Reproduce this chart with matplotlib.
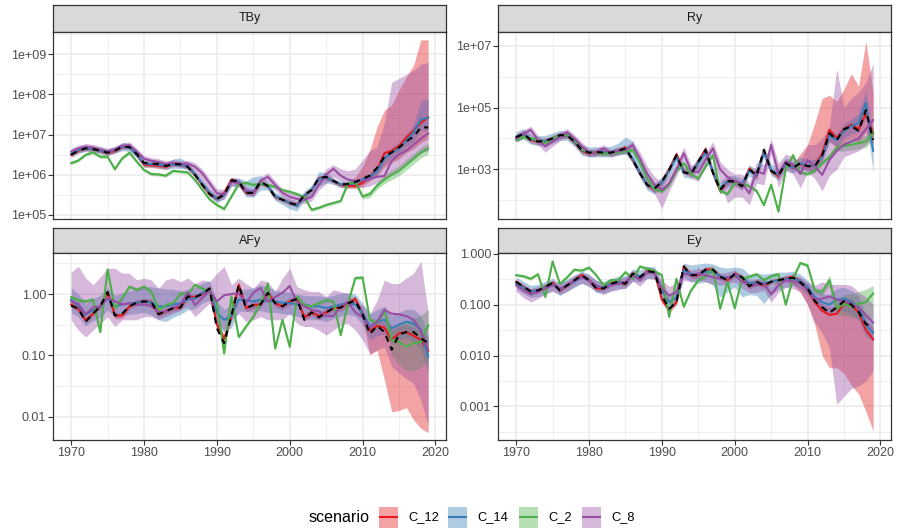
import numpy as np
import matplotlib
matplotlib.use("Agg")
import matplotlib.pyplot as plt
from matplotlib.patches import Rectangle
from matplotlib.lines import Line2D

plt.rcParams['font.family'] = ['Liberation Sans', 'DejaVu Sans']

years = list(range(1970, 2020))
scenarios = ["C_12", "C_14", "C_2", "C_8"]
scen_colors = ["#E41A1C", "#377EB8", "#4DAF4A", "#984EA3"]

# all series below are log10 of the plotted quantity

# ---- TBy ----
tby_obs = [6.50, 6.60, 6.66, 6.64, 6.60, 6.55, 6.60, 6.70, 6.69, 6.52,
           6.30, 6.28, 6.27, 6.22, 6.27, 6.26, 6.20, 6.00, 5.75, 5.52,
           5.40, 5.50, 5.86, 5.84, 5.55, 5.55, 5.83, 5.72, 5.45, 5.38,
           5.30, 5.25, 5.50, 5.62, 5.92, 5.95, 5.85, 5.76, 5.77, 5.82,
           5.90, 5.98, 6.18, 6.45, 6.56, 6.68, 6.83, 6.95, 7.18, 7.18]
tby_c12 = [6.50, 6.60, 6.66, 6.64, 6.60, 6.55, 6.60, 6.70, 6.69, 6.50,
           6.25, 6.24, 6.22, 6.20, 6.27, 6.26, 6.20, 6.00, 5.75, 5.52,
           5.40, 5.55, 5.88, 5.80, 5.55, 5.55, 5.80, 5.72, 5.45, 5.38,
           5.30, 5.25, 5.48, 5.62, 5.92, 5.93, 5.84, 5.75, 5.72, 5.72,
           5.80, 5.95, 6.13, 6.54, 6.60, 6.72, 6.93, 7.10, 7.30, 7.43]
tby_c12_lo = [6.44, 6.54, 6.60, 6.58, 6.54, 6.49, 6.54, 6.64, 6.63, 6.44,
              6.19, 6.18, 6.16, 6.14, 6.21, 6.20, 6.14, 5.94, 5.69, 5.46,
              5.34, 5.49, 5.82, 5.74, 5.49, 5.49, 5.74, 5.66, 5.39, 5.32,
              5.24, 5.19, 5.42, 5.56, 5.86, 5.87, 5.78, 5.69, 5.66, 5.66,
              5.72, 5.85, 5.98, 6.20, 6.30, 6.40, 6.55, 6.65, 6.80, 6.90]
tby_c12_hi = [6.56, 6.66, 6.72, 6.70, 6.66, 6.61, 6.66, 6.76, 6.75, 6.56,
              6.31, 6.30, 6.28, 6.26, 6.33, 6.32, 6.26, 6.06, 5.81, 5.58,
              5.46, 5.61, 5.94, 5.86, 5.61, 5.61, 5.86, 5.78, 5.51, 5.44,
              5.36, 5.31, 5.54, 5.68, 5.98, 5.99, 5.90, 5.81, 5.80, 5.95,
              6.20, 6.62, 7.20, 7.61, 7.74, 8.11, 8.44, 8.73, 9.36, 9.36]
tby_c14 = [6.52, 6.62, 6.66, 6.64, 6.60, 6.56, 6.62, 6.70, 6.68, 6.50,
           6.28, 6.27, 6.25, 6.22, 6.26, 6.25, 6.20, 6.02, 5.78, 5.55,
           5.40, 5.50, 5.82, 5.82, 5.58, 5.58, 5.80, 5.72, 5.47, 5.38,
           5.30, 5.22, 5.48, 5.62, 5.90, 5.93, 5.84, 5.76, 5.76, 5.80,
           5.88, 5.95, 6.10, 6.40, 6.55, 6.65, 6.85, 7.05, 7.38, 7.42]
tby_c14_lo = [6.44, 6.54, 6.58, 6.56, 6.52, 6.48, 6.54, 6.60, 6.58, 6.42,
              6.20, 6.19, 6.17, 6.13, 6.16, 6.16, 6.12, 5.94, 5.70, 5.46,
              5.30, 5.40, 5.72, 5.72, 5.45, 5.45, 5.62, 5.62, 5.36, 5.26,
              5.15, 5.10, 5.36, 5.52, 5.72, 5.80, 5.76, 5.68, 5.68, 5.72,
              5.80, 5.86, 6.00, 6.28, 6.42, 6.52, 6.70, 6.82, 7.10, 7.10]
tby_c14_hi = [6.60, 6.70, 6.74, 6.72, 6.68, 6.64, 6.70, 6.80, 6.78, 6.58,
              6.36, 6.35, 6.34, 6.30, 6.40, 6.42, 6.30, 6.10, 5.86, 5.64,
              5.50, 5.60, 5.92, 5.92, 5.85, 5.95, 5.98, 5.82, 5.57, 5.48,
              5.40, 5.34, 5.60, 5.74, 6.08, 6.06, 5.92, 5.84, 5.84, 5.88,
              5.96, 6.04, 6.20, 6.52, 6.68, 6.80, 7.00, 7.25, 7.85, 7.88]
tby_c2 = [6.29, 6.36, 6.50, 6.56, 6.45, 6.45, 6.14, 6.41, 6.55, 6.33,
          6.12, 6.02, 6.01, 5.98, 6.10, 6.08, 6.06, 5.87, 5.63, 5.39,
          5.25, 5.15, 5.46, 5.77, 5.80, 5.75, 5.78, 5.75, 5.70, 5.62,
          5.58, 5.52, 5.45, 5.13, 5.18, 5.25, 5.30, 5.35, 5.79, 5.82,
          5.46, 5.52, 5.73, 5.88, 6.00, 6.10, 6.25, 6.40, 6.55, 6.66]
tby_c2_lo = [6.25, 6.32, 6.46, 6.52, 6.41, 6.41, 6.10, 6.37, 6.51, 6.29,
             6.08, 5.98, 5.97, 5.94, 6.06, 6.04, 6.02, 5.83, 5.59, 5.35,
             5.21, 5.11, 5.42, 5.73, 5.76, 5.71, 5.74, 5.71, 5.66, 5.58,
             5.54, 5.48, 5.41, 5.09, 5.14, 5.21, 5.26, 5.31, 5.74, 5.76,
             5.40, 5.44, 5.64, 5.78, 5.88, 5.98, 6.12, 6.27, 6.42, 6.52]
tby_c2_hi = [6.33, 6.40, 6.54, 6.60, 6.49, 6.49, 6.18, 6.45, 6.59, 6.37,
             6.16, 6.06, 6.05, 6.02, 6.14, 6.12, 6.10, 5.91, 5.67, 5.43,
             5.29, 5.19, 5.50, 5.81, 5.84, 5.79, 5.82, 5.79, 5.74, 5.66,
             5.62, 5.56, 5.49, 5.17, 5.22, 5.29, 5.34, 5.39, 5.84, 5.88,
             5.52, 5.60, 5.82, 5.98, 6.12, 6.22, 6.38, 6.53, 6.68, 6.80]
tby_c8 = [6.58, 6.66, 6.70, 6.68, 6.63, 6.58, 6.63, 6.72, 6.74, 6.58,
          6.40, 6.35, 6.32, 6.27, 6.30, 6.27, 6.28, 6.20, 6.04, 5.79,
          5.54, 5.52, 5.83, 5.80, 5.62, 5.55, 5.85, 5.95, 5.75, 5.55,
          5.45, 5.40, 5.38, 5.45, 5.75, 6.00, 6.15, 5.98, 5.88, 5.85,
          5.85, 5.90, 5.95, 5.97, 6.35, 6.50, 6.60, 6.75, 6.90, 7.03]
tby_c8_lo = [6.50, 6.58, 6.62, 6.60, 6.55, 6.50, 6.55, 6.64, 6.66, 6.50,
             6.32, 6.27, 6.24, 6.19, 6.22, 6.19, 6.20, 6.08, 5.85, 5.50,
             5.35, 5.40, 5.72, 5.70, 5.52, 5.45, 5.75, 5.82, 5.62, 5.45,
             5.35, 5.30, 5.28, 5.35, 5.62, 5.78, 5.95, 5.85, 5.72, 5.68,
             5.68, 5.72, 5.80, 5.88, 6.05, 6.15, 6.30, 6.40, 6.55, 6.60]
tby_c8_hi = [6.66, 6.74, 6.78, 6.76, 6.71, 6.66, 6.71, 6.80, 6.82, 6.66,
             6.48, 6.43, 6.40, 6.35, 6.38, 6.35, 6.36, 6.30, 6.14, 5.90,
             5.65, 5.64, 5.94, 5.90, 5.72, 5.65, 5.95, 6.05, 5.85, 5.65,
             5.55, 5.50, 5.48, 5.55, 5.88, 6.15, 6.25, 6.15, 6.10, 6.15,
             6.37, 6.60, 6.70, 7.30, 8.30, 8.40, 8.50, 8.60, 8.75, 8.80]

# ---- Ry ----
ry_obs = [4.04, 4.15, 3.95, 3.90, 3.92, 4.00, 4.11, 4.10, 3.90, 3.63,
          3.54, 3.56, 3.54, 3.54, 3.60, 3.68, 3.30, 2.87, 2.49, 2.38,
          2.60, 2.98, 3.46, 2.90, 2.85, 3.25, 3.63, 2.90, 2.33, 2.62,
          2.60, 2.45, 3.00, 2.80, 3.63, 2.95, 2.80, 3.20, 3.05, 3.20,
          3.10, 3.10, 3.45, 4.17, 3.95, 4.30, 4.40, 4.25, 4.92, 3.95]
ry_c12 = [4.04, 4.15, 3.95, 3.90, 3.92, 4.00, 4.11, 4.10, 3.88, 3.60,
          3.52, 3.55, 3.54, 3.54, 3.60, 3.70, 3.30, 2.87, 2.49, 2.35,
          2.60, 3.00, 3.48, 2.95, 2.85, 3.25, 3.65, 2.90, 2.30, 2.62,
          2.62, 2.45, 3.02, 2.80, 3.60, 2.95, 2.78, 3.22, 3.05, 3.18,
          3.10, 3.12, 3.50, 4.28, 4.00, 4.30, 4.45, 4.30, 4.80, 4.15]
ry_c12_lo = [3.94, 4.05, 3.85, 3.80, 3.82, 3.90, 4.01, 4.00, 3.78, 3.50,
             3.42, 3.45, 3.44, 3.44, 3.50, 3.60, 3.20, 2.77, 2.39, 2.25,
             2.50, 2.90, 3.38, 2.85, 2.75, 3.15, 3.55, 2.80, 2.20, 2.52,
             2.52, 2.35, 2.92, 2.70, 3.50, 2.85, 2.68, 3.12, 2.95, 3.05,
             2.95, 2.95, 3.30, 3.90, 3.70, 3.90, 4.00, 3.90, 4.20, 3.80]
ry_c12_hi = [4.14, 4.25, 4.05, 4.00, 4.02, 4.10, 4.21, 4.20, 3.98, 3.70,
             3.62, 3.65, 3.64, 3.64, 3.70, 3.80, 3.40, 2.97, 2.59, 2.45,
             2.70, 3.10, 3.58, 3.05, 2.95, 3.35, 3.75, 3.00, 2.40, 2.72,
             2.72, 2.55, 3.12, 2.90, 3.70, 3.05, 2.88, 3.32, 3.20, 3.50,
             3.80, 4.50, 5.30, 5.40, 5.20, 5.60, 6.10, 5.70, 7.15, 5.50]
ry_c14 = [4.06, 4.15, 3.98, 3.92, 3.92, 4.00, 4.10, 4.10, 3.90, 3.62,
          3.55, 3.56, 3.55, 3.55, 3.60, 3.65, 3.35, 2.90, 2.50, 2.38,
          2.58, 2.95, 3.40, 2.92, 2.88, 3.20, 3.55, 2.92, 2.40, 2.60,
          2.62, 2.50, 2.95, 2.82, 3.55, 2.98, 2.82, 3.18, 3.05, 3.20,
          3.12, 3.12, 3.40, 4.10, 3.95, 4.25, 4.40, 4.50, 5.15, 3.60]
ry_c14_lo = [3.90, 3.98, 3.82, 3.76, 3.76, 3.84, 3.94, 3.94, 3.74, 3.46,
             3.40, 3.40, 3.40, 3.40, 3.45, 3.50, 3.20, 2.72, 2.32, 2.20,
             2.40, 2.78, 3.22, 2.75, 2.70, 3.02, 3.38, 2.75, 2.20, 2.42,
             2.45, 2.32, 2.78, 2.64, 3.38, 2.80, 2.64, 3.00, 2.88, 3.02,
             2.94, 2.94, 3.22, 3.90, 3.75, 4.02, 4.15, 4.20, 4.70, 2.90]
ry_c14_hi = [4.22, 4.32, 4.14, 4.08, 4.10, 4.18, 4.26, 4.26, 4.06, 3.80,
             3.72, 3.74, 3.72, 3.75, 3.85, 4.05, 3.92, 3.10, 2.70, 2.56,
             2.76, 3.12, 3.58, 3.10, 3.06, 3.40, 3.75, 3.10, 2.60, 2.80,
             2.80, 2.70, 3.14, 3.00, 3.75, 3.18, 3.02, 3.38, 3.25, 3.40,
             3.32, 3.32, 3.60, 4.30, 4.15, 4.48, 4.62, 4.80, 5.55, 4.10]
ry_c2 = [3.95, 4.05, 4.00, 3.95, 3.85, 4.00, 4.10, 4.12, 3.95, 3.65,
         3.55, 3.55, 3.50, 3.52, 3.55, 3.58, 3.62, 3.20, 2.70, 2.35,
         2.28, 2.50, 2.95, 3.20, 2.85, 2.70, 3.10, 3.46, 2.30, 2.20,
         2.55, 2.55, 2.45, 2.30, 1.84, 2.50, 1.63, 3.00, 3.46, 2.90,
         2.85, 2.95, 3.20, 3.40, 3.70, 3.75, 3.80, 3.85, 3.90, 4.20]
ry_c2_lo = [3.89, 3.99, 3.94, 3.89, 3.79, 3.94, 4.04, 4.06, 3.89, 3.59,
            3.49, 3.49, 3.44, 3.46, 3.49, 3.52, 3.56, 3.14, 2.64, 2.29,
            2.22, 2.44, 2.89, 3.14, 2.79, 2.64, 3.04, 3.40, 2.24, 2.14,
            2.49, 2.49, 2.39, 2.24, 1.78, 2.44, 1.57, 2.94, 3.40, 2.84,
            2.79, 2.89, 3.12, 3.30, 3.58, 3.60, 3.62, 3.66, 3.70, 3.98]
ry_c2_hi = [4.01, 4.11, 4.06, 4.01, 3.91, 4.06, 4.16, 4.18, 4.01, 3.71,
            3.61, 3.61, 3.56, 3.58, 3.61, 3.64, 3.68, 3.26, 2.76, 2.41,
            2.34, 2.56, 3.01, 3.26, 2.91, 2.76, 3.16, 3.52, 2.36, 2.26,
            2.61, 2.61, 2.51, 2.36, 1.90, 2.56, 1.69, 3.06, 3.52, 2.96,
            2.91, 3.01, 3.28, 3.50, 3.82, 3.90, 3.98, 4.04, 4.10, 4.42]
ry_c8 = [4.00, 4.15, 4.28, 3.95, 3.74, 3.90, 4.05, 4.20, 4.00, 3.75,
         3.54, 3.55, 3.68, 3.52, 3.60, 3.62, 3.79, 3.35, 2.85, 2.50,
         2.33, 2.55, 3.00, 3.52, 2.95, 2.90, 3.30, 3.68, 3.00, 2.75,
         2.60, 2.55, 2.22, 2.95, 2.85, 3.79, 2.85, 3.25, 3.15, 2.85,
         3.30, 3.10, 2.82, 3.30, 3.60, 3.80, 3.90, 4.00, 4.30, 4.60]
ry_c8_lo = [3.88, 4.03, 4.10, 3.80, 3.55, 3.75, 3.92, 4.08, 3.88, 3.62,
            3.42, 3.43, 3.55, 3.40, 3.48, 3.50, 3.62, 3.10, 2.50, 2.20,
            1.73, 2.30, 2.78, 3.30, 2.70, 2.62, 3.05, 3.40, 2.60, 1.90,
            2.10, 2.10, 1.85, 2.55, 2.50, 3.50, 2.40, 2.95, 2.85, 2.40,
            2.90, 2.70, 2.30, 2.80, 3.00, 3.40, 3.50, 3.60, 3.80, 4.00]
ry_c8_hi = [4.12, 4.27, 4.40, 4.10, 3.90, 4.05, 4.18, 4.32, 4.12, 3.88,
            3.66, 3.67, 3.80, 3.64, 3.72, 3.74, 3.92, 3.55, 3.10, 2.75,
            2.60, 2.80, 3.20, 3.72, 3.15, 3.12, 3.52, 3.90, 3.25, 3.00,
            2.85, 2.85, 2.55, 3.25, 3.15, 4.00, 3.20, 3.50, 3.40, 3.25,
            3.80, 3.80, 4.00, 4.40, 6.25, 5.00, 5.30, 5.50, 5.80, 6.44]

# ---- AFy ----
afy_obs = [-0.19, -0.24, -0.45, -0.32, -0.20, 0.03, -0.35, -0.32, -0.20, -0.14,
           -0.12, -0.13, -0.33, -0.28, -0.23, -0.22, -0.04, -0.05, 0.00, 0.09,
           -0.56, -0.80, -0.36, 0.15, -0.23, -0.18, -0.17, 0.02, -0.15, -0.20,
           -0.12, -0.08, -0.42, -0.30, -0.38, -0.30, -0.23, -0.22, -0.15, -0.11,
           -0.33, -0.65, -0.52, -0.62, -0.91, -0.66, -0.62, -0.62, -0.72, -0.80]
afy_c12 = [-0.17, -0.24, -0.43, -0.32, -0.20, 0.03, -0.35, -0.35, -0.20, -0.14,
           -0.12, -0.13, -0.33, -0.28, -0.23, -0.22, -0.04, -0.05, 0.00, 0.09,
           -0.50, -0.73, -0.36, 0.15, -0.23, -0.18, -0.17, 0.02, -0.15, -0.20,
           -0.12, -0.08, -0.38, -0.30, -0.36, -0.30, -0.23, -0.22, -0.15, -0.08,
           -0.33, -0.60, -0.52, -0.55, -0.75, -0.64, -0.62, -0.68, -0.75, -0.93]
afy_c12_lo = [-0.22, -0.29, -0.48, -0.37, -0.25, -0.02, -0.40, -0.40, -0.25, -0.19,
              -0.17, -0.18, -0.38, -0.33, -0.28, -0.27, -0.09, -0.10, -0.05, 0.04,
              -0.56, -0.80, -0.42, 0.09, -0.29, -0.24, -0.23, -0.04, -0.21, -0.26,
              -0.18, -0.14, -0.44, -0.36, -0.42, -0.36, -0.29, -0.28, -0.21, -0.16,
              -0.42, -0.99, -0.92, -1.40, -1.92, -1.90, -1.85, -2.05, -2.19, -2.26]
afy_c12_hi = [-0.12, -0.19, -0.38, -0.27, -0.15, 0.08, -0.30, -0.30, -0.15, -0.09,
              -0.07, -0.08, -0.28, -0.23, -0.18, -0.17, 0.01, 0.00, 0.05, 0.14,
              -0.44, -0.66, -0.30, 0.21, -0.17, -0.12, -0.11, 0.08, -0.09, -0.14,
              -0.06, -0.02, -0.32, -0.24, -0.30, -0.24, -0.17, -0.16, -0.09, -0.02,
              -0.26, -0.50, -0.42, -0.45, -0.58, -0.52, -0.50, -0.55, -0.60, -0.72]
afy_c14 = [-0.09, -0.20, -0.34, -0.26, -0.20, -0.07, -0.20, -0.17, -0.15, -0.14,
           -0.12, -0.14, -0.20, -0.20, -0.17, -0.15, -0.09, -0.07, 0.02, 0.07,
           -0.31, -0.42, -0.36, -0.09, -0.10, -0.12, -0.09, -0.12, -0.12, -0.14,
           -0.15, -0.17, -0.17, -0.20, -0.20, -0.23, -0.20, -0.17, -0.15, -0.17,
           -0.31, -0.53, -0.45, -0.42, -0.56, -0.50, -0.45, -0.48, -0.58, -1.02]
afy_c14_lo = [-0.30, -0.38, -0.52, -0.44, -0.38, -0.26, -0.38, -0.35, -0.33, -0.32,
              -0.30, -0.34, -0.42, -0.45, -0.38, -0.33, -0.26, -0.24, -0.15, -0.10,
              -0.52, -0.62, -0.55, -0.28, -0.28, -0.30, -0.27, -0.30, -0.30, -0.32,
              -0.33, -0.36, -0.40, -0.42, -0.42, -0.45, -0.40, -0.36, -0.33, -0.36,
              -0.50, -0.75, -0.68, -0.65, -0.80, -0.75, -0.72, -0.78, -0.90, -1.30]
afy_c14_hi = [0.10, 0.00, -0.16, -0.08, -0.02, 0.10, -0.02, 0.02, 0.05, 0.08,
              0.12, 0.12, 0.10, 0.08, 0.08, 0.05, 0.08, 0.10, 0.18, 0.22,
              -0.12, -0.25, -0.18, 0.08, 0.08, 0.10, 0.15, 0.12, 0.06, 0.04,
              0.03, 0.00, -0.02, -0.03, -0.03, -0.05, -0.02, 0.01, 0.02, 0.00,
              -0.15, -0.32, -0.25, -0.20, -0.35, -0.30, -0.25, -0.25, -0.35, -0.70]
afy_c2 = [-0.05, -0.10, -0.12, -0.09, -0.62, 0.40, -0.23, -0.07, 0.12, 0.07,
          0.12, 0.04, -0.26, -0.18, -0.15, 0.01, 0.00, 0.15, 0.09, 0.04,
          -0.15, -0.97, -0.04, -0.70, -0.53, -0.37, -0.15, 0.17, -0.89, -0.42,
          -0.86, -0.04, -0.18, -0.20, -0.15, -0.10, -0.12, -0.67, -0.15, 0.26,
          0.27, -0.42, -0.47, -0.26, -0.75, -0.78, -0.86, -0.80, -0.78, -0.51]
afy_c2_lo = [-0.08, -0.13, -0.15, -0.12, -0.65, 0.37, -0.26, -0.10, 0.09, 0.04,
             0.09, 0.01, -0.29, -0.21, -0.18, -0.02, -0.03, 0.12, 0.06, 0.01,
             -0.18, -1.00, -0.07, -0.73, -0.56, -0.40, -0.18, 0.14, -0.92, -0.45,
             -0.89, -0.07, -0.21, -0.23, -0.18, -0.13, -0.15, -0.70, -0.18, 0.23,
             0.24, -0.46, -0.52, -0.32, -1.00, -1.15, -1.25, -1.25, -1.20, -1.10]
afy_c2_hi = [-0.02, -0.07, -0.09, -0.06, -0.59, 0.43, -0.20, -0.04, 0.15, 0.10,
             0.15, 0.07, -0.23, -0.15, -0.12, 0.04, 0.03, 0.18, 0.12, 0.07,
             -0.12, -0.94, -0.01, -0.67, -0.50, -0.34, -0.12, 0.20, -0.86, -0.39,
             -0.83, -0.01, -0.15, -0.17, -0.12, -0.07, -0.09, -0.64, -0.12, 0.29,
             0.30, -0.38, -0.42, -0.20, -0.60, -0.50, -0.45, -0.40, -0.35, -0.25]
afy_c8 = [-0.12, -0.16, -0.33, -0.22, -0.20, -0.07, -0.12, -0.17, -0.15, -0.18,
          -0.17, -0.20, -0.30, -0.28, -0.23, -0.17, 0.03, -0.18, -0.07, 0.06,
          -0.12, -0.02, 0.00, 0.01, -0.15, 0.02, 0.10, -0.12, -0.05, 0.02,
          0.13, -0.14, -0.20, -0.26, -0.28, -0.36, -0.36, -0.20, -0.13, -0.30,
          -0.38, -0.55, -0.45, -0.26, -0.32, -0.33, -0.36, -0.42, -0.60, -0.91]
afy_c8_lo = [-0.42, -0.59, -0.70, -0.59, -0.48, -0.37, -0.53, -0.42, -0.42, -0.42,
             -0.37, -0.37, -0.42, -0.37, -0.32, -0.26, -0.21, -0.37, -0.26, -0.15,
             -0.48, -0.59, -0.42, -0.32, -0.45, -0.42, -0.37, -0.42, -0.42, -0.42,
             -0.32, -0.48, -0.53, -0.53, -0.59, -0.67, -0.59, -0.50, -0.48, -0.59,
             -0.75, -0.97, -0.91, -0.86, -1.18, -1.29, -1.38, -1.46, -1.73, -2.14]
afy_c8_hi = [0.36, 0.45, 0.26, 0.15, 0.28, 0.42, 0.42, 0.34, 0.34, 0.23,
             0.26, 0.23, 0.09, 0.23, 0.26, 0.20, 0.26, 0.17, 0.23, 0.20,
             0.34, 0.45, 0.15, 0.26, 0.17, 0.09, 0.23, 0.20, 0.04, 0.26,
             0.42, 0.12, 0.07, 0.04, 0.04, -0.04, 0.07, 0.04, 0.01, -0.15,
             -0.18, -0.32, -0.10, 0.23, 0.17, 0.17, 0.26, 0.34, 0.53, -0.30]

# ---- Ey ----
ey_obs = [-0.55, -0.65, -0.74, -0.72, -0.65, -0.57, -0.72, -0.62, -0.52, -0.42,
          -0.52, -0.68, -0.68, -0.59, -0.55, -0.59, -0.39, -0.46, -0.34, -0.36,
          -0.82, -1.08, -0.95, -0.25, -0.42, -0.42, -0.31, -0.31, -0.45, -0.52,
          -0.40, -0.46, -0.64, -0.55, -0.62, -0.55, -0.52, -0.49, -0.47, -0.56,
          -0.68, -0.93, -1.05, -1.16, -1.05, -0.93, -1.00, -1.14, -1.38, -1.44]
ey_c12 = [-0.55, -0.65, -0.74, -0.72, -0.65, -0.57, -0.72, -0.62, -0.52, -0.42,
          -0.52, -0.68, -0.68, -0.59, -0.55, -0.59, -0.39, -0.46, -0.34, -0.36,
          -0.90, -1.10, -0.95, -0.25, -0.42, -0.42, -0.31, -0.31, -0.45, -0.52,
          -0.40, -0.46, -0.64, -0.55, -0.62, -0.55, -0.52, -0.49, -0.45, -0.56,
          -0.70, -0.95, -1.12, -1.20, -1.18, -0.97, -1.00, -1.15, -1.50, -1.68]
ey_c12_lo = [-0.60, -0.70, -0.79, -0.77, -0.70, -0.62, -0.77, -0.67, -0.57, -0.47,
             -0.57, -0.73, -0.73, -0.64, -0.60, -0.64, -0.44, -0.51, -0.39, -0.41,
             -0.96, -1.16, -1.01, -0.31, -0.48, -0.48, -0.37, -0.37, -0.51, -0.58,
             -0.46, -0.52, -0.70, -0.61, -0.68, -0.61, -0.58, -0.55, -0.60, -0.75,
             -1.00, -1.40, -2.00, -2.24, -2.24, -2.35, -2.58, -2.75, -3.10, -3.48]
ey_c12_hi = [-0.50, -0.60, -0.69, -0.67, -0.60, -0.52, -0.67, -0.57, -0.47, -0.37,
             -0.47, -0.63, -0.63, -0.54, -0.50, -0.54, -0.34, -0.41, -0.29, -0.31,
             -0.84, -1.04, -0.89, -0.19, -0.36, -0.36, -0.25, -0.25, -0.39, -0.46,
             -0.34, -0.40, -0.58, -0.49, -0.56, -0.49, -0.46, -0.43, -0.39, -0.48,
             -0.60, -0.82, -0.98, -1.05, -1.02, -0.85, -0.88, -1.00, -1.30, -1.45]
ey_c14 = [-0.58, -0.66, -0.74, -0.72, -0.66, -0.60, -0.70, -0.62, -0.54, -0.46,
          -0.52, -0.64, -0.66, -0.60, -0.56, -0.56, -0.42, -0.44, -0.36, -0.38,
          -0.72, -0.95, -0.86, -0.32, -0.40, -0.40, -0.35, -0.35, -0.44, -0.48,
          -0.42, -0.46, -0.58, -0.56, -0.58, -0.55, -0.52, -0.50, -0.48, -0.54,
          -0.66, -0.85, -0.95, -1.00, -0.90, -0.88, -0.95, -1.05, -1.40, -1.55]
ey_c14_lo = [-0.70, -0.78, -0.86, -0.84, -0.78, -0.72, -0.82, -0.74, -0.66, -0.58,
             -0.64, -0.76, -0.78, -0.72, -0.68, -0.68, -0.54, -0.56, -0.48, -0.50,
             -0.86, -1.10, -1.00, -0.46, -0.55, -0.58, -0.55, -0.62, -0.85, -0.75,
             -0.65, -0.85, -0.80, -0.82, -0.98, -0.80, -0.70, -0.66, -0.62, -0.68,
             -0.80, -1.00, -1.10, -1.18, -1.12, -1.12, -1.20, -1.30, -1.62, -1.72]
ey_c14_hi = [-0.46, -0.54, -0.62, -0.60, -0.54, -0.48, -0.58, -0.50, -0.42, -0.34,
             -0.40, -0.52, -0.54, -0.48, -0.44, -0.44, -0.30, -0.32, -0.24, -0.26,
             -0.58, -0.80, -0.72, -0.18, -0.22, -0.20, -0.18, -0.20, -0.26, -0.28,
             -0.26, -0.28, -0.40, -0.38, -0.40, -0.38, -0.36, -0.36, -0.34, -0.40,
             -0.52, -0.70, -0.78, -0.80, -0.68, -0.66, -0.72, -0.82, -1.20, -1.35]
ey_c2 = [-0.42, -0.44, -0.49, -0.40, -0.85, -0.15, -0.59, -0.46, -0.31, -0.33,
         -0.27, -0.42, -0.62, -0.52, -0.52, -0.36, -0.49, -0.25, -0.29, -0.34,
         -0.42, -1.24, -0.49, -1.04, -0.72, -0.52, -0.44, -0.29, -1.08, -0.55,
         -1.07, -0.49, -0.45, -0.40, -0.52, -0.44, -0.40, -1.00, -0.49, -0.18,
         -0.23, -0.72, -0.75, -0.52, -1.08, -0.98, -1.03, -0.98, -0.95, -0.78]
ey_c2_lo = [-0.45, -0.47, -0.52, -0.43, -0.88, -0.18, -0.62, -0.49, -0.34, -0.36,
            -0.30, -0.45, -0.65, -0.55, -0.55, -0.39, -0.52, -0.28, -0.32, -0.37,
            -0.45, -1.27, -0.52, -1.07, -0.75, -0.55, -0.47, -0.32, -1.11, -0.58,
            -1.10, -0.52, -0.48, -0.43, -0.55, -0.47, -0.43, -1.03, -0.52, -0.21,
            -0.27, -0.77, -0.82, -0.62, -1.20, -1.22, -1.25, -1.27, -1.28, -1.28]
ey_c2_hi = [-0.39, -0.41, -0.46, -0.37, -0.82, -0.12, -0.56, -0.43, -0.28, -0.30,
            -0.24, -0.39, -0.59, -0.49, -0.49, -0.33, -0.46, -0.22, -0.26, -0.31,
            -0.39, -1.21, -0.46, -1.01, -0.69, -0.49, -0.41, -0.26, -1.05, -0.52,
            -1.04, -0.46, -0.42, -0.37, -0.49, -0.41, -0.37, -0.97, -0.46, -0.15,
            -0.19, -0.67, -0.68, -0.42, -0.92, -0.80, -0.78, -0.74, -0.70, -0.62]
ey_c8 = [-0.62, -0.72, -0.80, -0.75, -0.68, -0.62, -0.68, -0.62, -0.52, -0.46,
         -0.52, -0.62, -0.68, -0.62, -0.59, -0.55, -0.42, -0.52, -0.36, -0.38,
         -0.68, -0.82, -0.75, -0.39, -0.42, -0.39, -0.42, -0.46, -0.49, -0.46,
         -0.42, -0.55, -0.62, -0.62, -0.58, -0.80, -0.62, -0.52, -0.54, -0.58,
         -0.72, -0.90, -0.88, -0.84, -0.90, -0.93, -0.98, -1.06, -1.20, -1.35]
ey_c8_lo = [-0.74, -0.86, -0.95, -0.88, -0.80, -0.74, -0.80, -0.74, -0.64, -0.58,
            -0.64, -0.74, -0.80, -0.74, -0.71, -0.67, -0.54, -0.64, -0.48, -0.50,
            -0.84, -1.00, -0.92, -0.52, -0.55, -0.52, -0.55, -0.59, -0.62, -0.59,
            -0.55, -0.68, -0.76, -0.76, -0.72, -0.95, -0.76, -0.66, -0.68, -0.75,
            -1.00, -1.35, -1.55, -1.85, -2.96, -2.80, -2.65, -2.60, -2.50, -2.30]
ey_c8_hi = [-0.52, -0.62, -0.68, -0.64, -0.58, -0.52, -0.58, -0.52, -0.42, -0.36,
            -0.42, -0.52, -0.58, -0.52, -0.49, -0.45, -0.32, -0.42, -0.26, -0.28,
            -0.52, -0.64, -0.58, -0.28, -0.32, -0.28, -0.32, -0.36, -0.38, -0.36,
            -0.32, -0.44, -0.50, -0.50, -0.46, -0.66, -0.50, -0.42, -0.44, -0.46,
            -0.56, -0.62, -0.55, -0.60, -0.60, -0.60, -0.62, -0.75, -0.85, -1.00]

# axis breaks and labels
x_breaks = [1970, 1980, 1990, 2000, 2010, 2020]
x_minor = [1975, 1985, 1995, 2005, 2015]
tby_breaks = [1e5, 1e6, 1e7, 1e8, 1e9]
tby_labels = ["1e+05", "1e+06", "1e+07", "1e+08", "1e+09"]
ry_breaks = [1e3, 1e5, 1e7]
ry_labels = ["1e+03", "1e+05", "1e+07"]
afy_breaks = [0.01, 0.1, 1.0]
afy_labels = ["0.01", "0.10", "1.00"]
ey_breaks = [0.001, 0.01, 0.1, 1.0]
ey_labels = ["0.001", "0.010", "0.100", "1.000"]

W, H = 897, 532
fig = plt.figure(figsize=(W / 100, H / 100), dpi=100)
fig.patch.set_facecolor("white")

border = "#333333"
grid_col = "#EBEBEB"
tick_txt = "#4D4D4D"


def rect(x0, y0, x1, y1):
    # pixel box (top-left origin) -> figure fraction
    return [x0 / W, 1 - y1 / H, (x1 - x0) / W, (y1 - y0) / H]


def strip(box, label):
    s = fig.add_axes(rect(*box))
    s.set_facecolor("#D9D9D9")
    s.set_xticks([])
    s.set_yticks([])
    for sp in s.spines.values():
        sp.set_color(border)
        sp.set_linewidth(0.9)
    s.text(0.5, 0.5, label, ha="center", va="center", fontsize=9,
           color="#1A1A1A", transform=s.transAxes)


def panel(box, bands, obs, ylim, breaks, labels, minor_y, show_x):
    ax = fig.add_axes(rect(*box))
    ax.set_yscale("log")
    for (mid, lo, hi), col in zip(bands, scen_colors):
        ax.fill_between(years, 10 ** np.array(lo), 10 ** np.array(hi),
                        color=col, alpha=0.4, linewidth=0, zorder=2)
    for (mid, lo, hi), col in zip(bands, scen_colors):
        ax.plot(years, 10 ** np.array(mid), color=col, lw=1.5, zorder=3)
    ax.plot(years, 10 ** np.array(obs), color="black", lw=1.5,
            linestyle=(0, (3, 2.5)), zorder=4)

    ax.set_xlim(1967.55, 2021.45)
    ax.set_ylim(10 ** ylim[0], 10 ** ylim[1])
    ax.set_xticks(x_breaks)
    ax.set_xticks(x_minor, minor=True)
    ax.set_yticks(breaks)
    ax.set_yticklabels(labels)
    ax.set_yticks([10 ** v for v in minor_y], minor=True)
    ax.yaxis.set_minor_formatter(plt.NullFormatter())
    ax.grid(which="major", color=grid_col, lw=1.1, zorder=0)
    ax.grid(which="minor", color=grid_col, lw=0.55, zorder=0)
    ax.set_axisbelow(True)
    ax.tick_params(which="minor", length=0)
    ax.tick_params(which="major", length=3.3, width=0.8, color=border,
                   labelcolor=tick_txt, labelsize=9, pad=2)
    if show_x:
        ax.set_xticklabels([str(v) for v in x_breaks])
    else:
        ax.tick_params(axis="x", which="major", bottom=False, labelbottom=False)
    for sp in ax.spines.values():
        sp.set_color(border)
        sp.set_linewidth(0.9)
    return ax


# top-left: TBy
strip((53.3, 5, 446, 31.7), "TBy")
panel((53.3, 31.7, 446, 219),
      [(tby_c12, tby_c12_lo, tby_c12_hi), (tby_c14, tby_c14_lo, tby_c14_hi),
       (tby_c2, tby_c2_lo, tby_c2_hi), (tby_c8, tby_c8_lo, tby_c8_hi)],
      tby_obs, (4.90, 9.563), tby_breaks, tby_labels,
      [5.5, 6.5, 7.5, 8.5, 9.5], False)

# top-right: Ry
strip((498.3, 5, 891, 31.7), "Ry")
panel((498.3, 31.7, 891, 219),
      [(ry_c12, ry_c12_lo, ry_c12_hi), (ry_c14, ry_c14_lo, ry_c14_hi),
       (ry_c2, ry_c2_lo, ry_c2_hi), (ry_c8, ry_c8_lo, ry_c8_hi)],
      ry_obs, (1.39, 7.46), ry_breaks, ry_labels, [2, 4, 6], False)

# bottom-left: AFy
strip((53.3, 228.3, 446, 253.3), "AFy")
panel((53.3, 253.3, 446, 440),
      [(afy_c12, afy_c12_lo, afy_c12_hi), (afy_c14, afy_c14_lo, afy_c14_hi),
       (afy_c2, afy_c2_lo, afy_c2_hi), (afy_c8, afy_c8_lo, afy_c8_hi)],
      afy_obs, (-2.38, 0.664), afy_breaks, afy_labels, [-1.5, -0.5, 0.5], True)

# bottom-right: Ey
strip((498.3, 228.3, 891, 253.3), "Ey")
panel((498.3, 253.3, 891, 440),
      [(ey_c12, ey_c12_lo, ey_c12_hi), (ey_c14, ey_c14_lo, ey_c14_hi),
       (ey_c2, ey_c2_lo, ey_c2_hi), (ey_c8, ey_c8_lo, ey_c8_hi)],
      ey_obs, (-3.66, 0.01), ey_breaks, ey_labels,
      [-3.5, -2.5, -1.5, -0.5], True)

# legend along the bottom
leg_y = 517
fig.text(309 / W, 1 - leg_y / H, "scenario", ha="left", va="center",
         fontsize=11.6, color="black")
key_x = [379, 448, 519, 582]
for name, col, kx in zip(scenarios, scen_colors, key_x):
    fig.patches.append(Rectangle((kx / W, 1 - (leg_y + 10.5) / H), 19 / W, 21 / H,
                                 transform=fig.transFigure, facecolor=col,
                                 alpha=0.4, edgecolor="none"))
    fig.lines.append(Line2D([(kx + 1) / W, (kx + 18) / W],
                            [1 - leg_y / H, 1 - leg_y / H],
                            transform=fig.transFigure, color=col, lw=1.5))
    fig.text((kx + 29) / W, 1 - leg_y / H, name, ha="left", va="center",
             fontsize=9.3, color="black")

fig.savefig("out.png", dpi=100)
